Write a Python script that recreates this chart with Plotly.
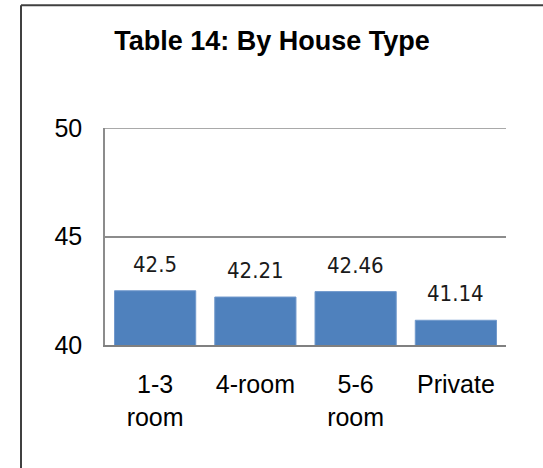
import plotly.graph_objects as go

categories = ["1-3<br>room", "4-room", "5-6<br>room", "Private"]
values = [42.5, 42.21, 42.46, 41.14]
value_labels = ["42.5", "42.21", "42.46", "41.14"]
y_ticks = [40, 45, 50]

fig = go.Figure()
fig.add_trace(go.Bar(
    x=categories, y=values,
    marker=dict(color="#4F81BD", line=dict(color="#7199cc", width=1)),
    width=0.81, hoverinfo="skip",
))

for c, v, t in zip(categories, values, value_labels):
    fig.add_annotation(
        x=c, y=v, text=t, showarrow=False, yanchor="bottom", yshift=12,
        font=dict(family="Liberation Sans Narrow, DejaVu Sans Condensed, Liberation Sans",
                  size=22, color="#1a1a1a"),
    )

W, H = 543, 468
L, R, T, B = 105, 37, 128, 122.5
pw, ph = W - L - R, H - T - B

def px(x):
    return (x - L) / pw

def py(y):
    return (H - B - y) / ph

border = dict(color="#404040", width=2)
fig.add_shape(type="line", xref="paper", yref="paper",
              x0=px(21), x1=px(W + 5), y0=py(5), y1=py(5), line=border)
fig.add_shape(type="line", xref="paper", yref="paper",
              x0=px(21), x1=px(21), y0=py(5), y1=py(H + 5), line=border)
# top gridline (plotly hides gridlines at the range edge)
fig.add_shape(type="line", xref="paper", yref="y", x0=0, x1=1,
              y0=y_ticks[-1], y1=y_ticks[-1], line=dict(color="#8c8c8c", width=1.5))

fig.update_layout(
    width=W, height=H,
    margin=dict(l=L, r=R, t=T, b=B, pad=0),
    paper_bgcolor="white", plot_bgcolor="white",
    showlegend=False,
    title=dict(text="<b>Table 14: By House Type</b>", x=272 / W, xanchor="center",
               xref="container", y=1 - 41 / H, yref="container", yanchor="middle",
               font=dict(family="Liberation Sans, Arial", size=27, color="black")),
    font=dict(family="Liberation Sans, Arial", color="black"),
    bargap=0.19,
)
fig.update_yaxes(range=[40, 50], tickvals=y_ticks, ticktext=[str(v) for v in y_ticks],
                 showgrid=True, gridcolor="#8c8c8c", gridwidth=1.5,
                 showline=True, linecolor="#8c8c8c", linewidth=1.5,
                 ticks="", ticklabelstandoff=16, zeroline=False,
                 tickfont=dict(size=25, family="Liberation Sans, Arial", color="black"))
fig.update_xaxes(showline=True, linecolor="#808080", linewidth=2, ticks="",
                 showgrid=False, ticklabelstandoff=16,
                 tickfont=dict(size=25, family="Liberation Sans, Arial", color="black"))

fig.write_html("out.html", config={"displayModeBar": False},
               post_script="document.body.style.margin='0';document.body.style.overflow='hidden';")
